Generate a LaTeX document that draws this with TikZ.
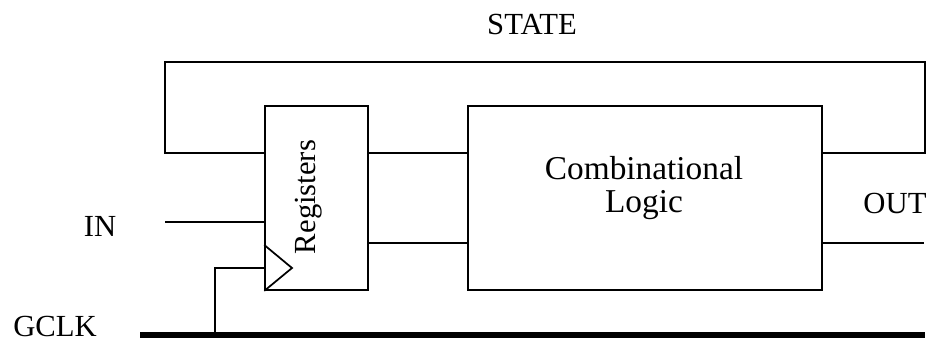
\documentclass[tikz,border=0pt]{standalone}
\usepackage{fontspec}
\setmainfont{Liberation Serif}
\usetikzlibrary{calc,positioning}
\tikzstyle{blk}=[draw, line width=1.3pt, inner sep=0pt,
    minimum height=138pt]
\tikzstyle{reg}=[blk, minimum width=77pt]
\tikzstyle{comb}=[blk, minimum width=265.5pt]
\tikzstyle{lbl}=[inner sep=0pt, font=\fontsize{23}{30}\selectfont]
\tikzstyle{wire}=[line width=1.3pt]
\tikzstyle{bus}=[line width=4pt]
\def\loopy{62}

\begin{document}
\begin{tikzpicture}[x=0.75pt, y=-0.75pt]
    \useasboundingbox (0,0) rectangle (936,341);
    \node (regs) [reg] at (316.5,198) {};
    \node (logic) [comb] at (645,198) {};
    \node (regtxt) [lbl, rotate=90] at (309,197) {Registers};
    \node (logtxt) [lbl, align=center, font=\fontsize{25}{25}\selectfont]
        at (644,188) {Combinational\\Logic};
    \node (state) [lbl] at (532,25) {STATE};
    \node (in) [lbl] at (100,226) {IN};
    \node (out) [lbl] at (895,204) {OUT};
    \node (gclk) [lbl] at (55,327) {GCLK};
    % free ends
    \coordinate (in1) at (165,222);
    \coordinate (st0) at (165,153);
    \coordinate (st1) at (925,153);
    \coordinate (out1) at (924,243);
    \coordinate (ck0) at (140,335);
    \coordinate (ck1) at (925,335);
    \coordinate (tap) at (215,335);
    \coordinate (tip) at (292,268);
    % state feedback
    \draw [wire] (st1 -| logic.east) -- (st1) -- (925,\loopy)
        -- (165,\loopy) -- (st0) -- (st0 -| regs.west);
    \draw [wire] (in1) -- (in1 -| regs.west);
    \draw [wire] (st0 -| regs.east) -- (st0 -| logic.west);
    \draw [wire] (out1 -| regs.east) -- (out1 -| logic.west);
    \draw [wire] (out1 -| logic.east) -- (out1);
    % clock
    \draw [wire] (regs.west |- 0,245) -- (tip) -- (regs.south west);
    \draw [wire] (tap) |- (tip -| regs.west);
    \draw [bus] (ck0) -- (ck1);
\end{tikzpicture}
\end{document}
